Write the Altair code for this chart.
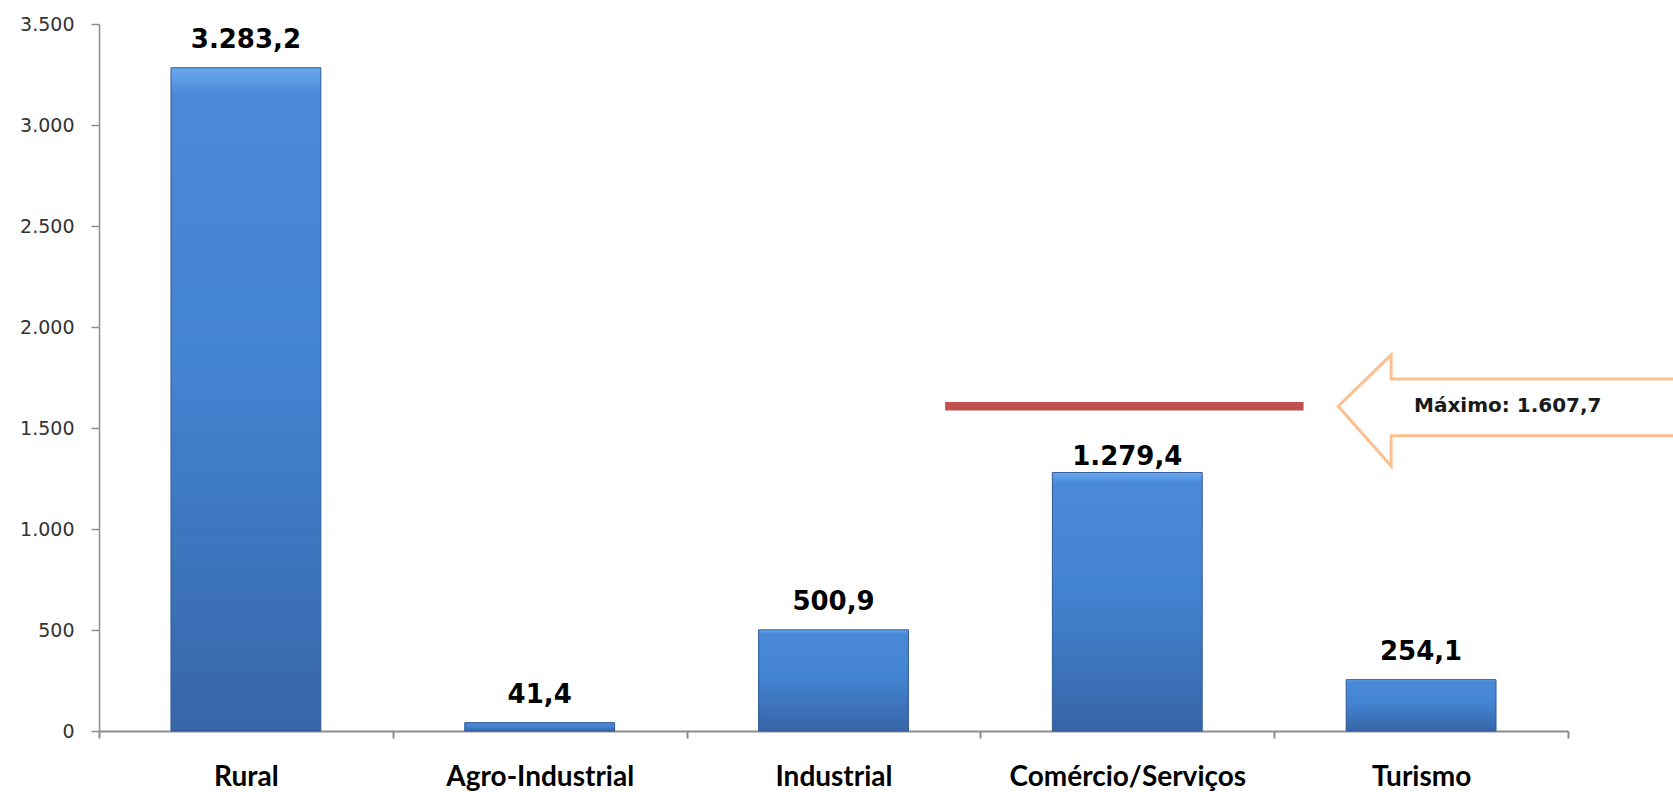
import altair as alt
import pandas as pd

# ---- data ----
categories = ["Rural", "Agro-Industrial", "Industrial", "Comércio/Serviços", "Turismo"]
values = [3283.2, 41.4, 500.9, 1279.4, 254.1]
value_labels = ["3.283,2", "41,4", "500,9", "1.279,4", "254,1"]
y_ticks = [0, 500, 1000, 1500, 2000, 2500, 3000, 3500]

max_value = 1607.7
max_label = "Máximo: 1.607,7"
# reference line extent, in category units (0..5 across the plot)
max_line_x = [2.88, 4.10]
# outline arrow vertices (x in category units, y in data units)
arrow_x = [5.45, 4.398, 4.398, 4.218, 4.398, 4.398, 5.45]
arrow_y = [1742, 1742, 1862, 1607.7, 1312, 1462, 1462]
label_x = 4.476

bars_df = pd.DataFrame({"cat": categories, "value": values, "label": value_labels})
line_df = pd.DataFrame({"x": [max_line_x[0]], "x2": [max_line_x[1]], "y": [max_value]})
arrow_df = pd.DataFrame({"x": arrow_x, "y": arrow_y, "o": list(range(len(arrow_x)))})
text_df = pd.DataFrame({"x": [label_x], "y": [max_value], "t": [max_label]})

W, H = 1469, 707

yscale = alt.Scale(domain=[0, 3500], nice=False, zero=True)
xband = alt.Scale(domain=categories, paddingInner=0, paddingOuter=0)
xq = alt.Scale(domain=[0, 5], nice=False, zero=False)

grad = alt.Gradient(
    gradient="linear",
    stops=[
        alt.GradientStop(color="#6BAAF0", offset=0),
        alt.GradientStop(color="#4A89D8", offset=0.04),
        alt.GradientStop(color="#4384D2", offset=0.45),
        alt.GradientStop(color="#3765A8", offset=1),
    ],
    x1=0, x2=0, y1=0, y2=1,
)

bars = alt.Chart(bars_df).mark_bar(color=grad, stroke="#2E5A92", strokeWidth=1,
                                   width=alt.RelativeBandSize(0.51)).encode(
    x=alt.X("cat:N", scale=xband, sort=categories, title=None,
            axis=alt.Axis(labelAngle=0, tickBand="extent", ticks=True, tickSize=7,
                          tickColor="#8C8C8C", tickWidth=2,
                          domainColor="#8C8C8C", domainWidth=2,
                          labelFont="Lato", labelFontWeight="bold", labelFontSize=28,
                          labelColor="#000000", labelBaseline="alphabetic",
                          labelLimit=0, labelPadding=47, grid=False)),
    y=alt.Y("value:Q", scale=yscale, title=None,
            axis=alt.Axis(values=y_ticks, grid=False, tickSize=8, tickColor="#8C8C8C",
                          tickWidth=1.5, domainColor="#8C8C8C", domainWidth=1.5,
                          labelFont="DejaVu Sans", labelFontSize=19, labelColor="#333333",
                          labelPadding=17,
                          labelExpr="replace(format(datum.value, ','), ',', '.')")),
)

labels_main = alt.Chart(bars_df).transform_filter(
    alt.datum.cat != "Comércio/Serviços"
).mark_text(font="DejaVu Sans", fontWeight="bold", fontSize=26, color="#000000",
            baseline="alphabetic", dy=-20).encode(
    x=alt.X("cat:N", scale=xband, sort=categories),
    y=alt.Y("value:Q", scale=yscale),
    text="label:N",
)
labels_com = alt.Chart(bars_df).transform_filter(
    alt.datum.cat == "Comércio/Serviços"
).mark_text(font="DejaVu Sans", fontWeight="bold", fontSize=26, color="#000000",
            baseline="alphabetic", dy=-8).encode(
    x=alt.X("cat:N", scale=xband, sort=categories),
    y=alt.Y("value:Q", scale=yscale),
    text="label:N",
)

bar_layer = alt.layer(bars, labels_main, labels_com)

maxline = alt.Chart(line_df).mark_rule(color="#C0504D", strokeWidth=8.5, strokeCap="butt").encode(
    x=alt.X("x:Q", scale=xq, axis=None),
    x2="x2:Q",
    y=alt.Y("y:Q", scale=yscale),
)
arrow = alt.Chart(arrow_df).mark_line(color="#FAC090", strokeWidth=3, strokeJoin="miter", clip=False).encode(
    x=alt.X("x:Q", scale=xq, axis=None),
    y=alt.Y("y:Q", scale=yscale),
    order="o:Q",
)
anno_text = alt.Chart(text_df).mark_text(font="DejaVu Sans", fontSize=20, fontWeight=600,
                                         color="#1A1A1A",
                                         align="left", baseline="middle").encode(
    x=alt.X("x:Q", scale=xq, axis=None),
    y=alt.Y("y:Q", scale=yscale),
    text="t:N",
)
anno_layer = alt.layer(maxline, arrow, anno_text)

chart = alt.layer(bar_layer, anno_layer).resolve_scale(x="independent").properties(
    width=W, height=H,
    autosize=alt.AutoSizeParams(type="none"),
    padding={"left": 99, "top": 24, "right": 105, "bottom": 61},
    view=alt.ViewBackground(strokeOpacity=0, strokeWidth=0),
).configure_view(strokeOpacity=0, strokeWidth=0).configure(background="white")

chart.save("out.html", embed_options={"renderer": "svg", "actions": False})
